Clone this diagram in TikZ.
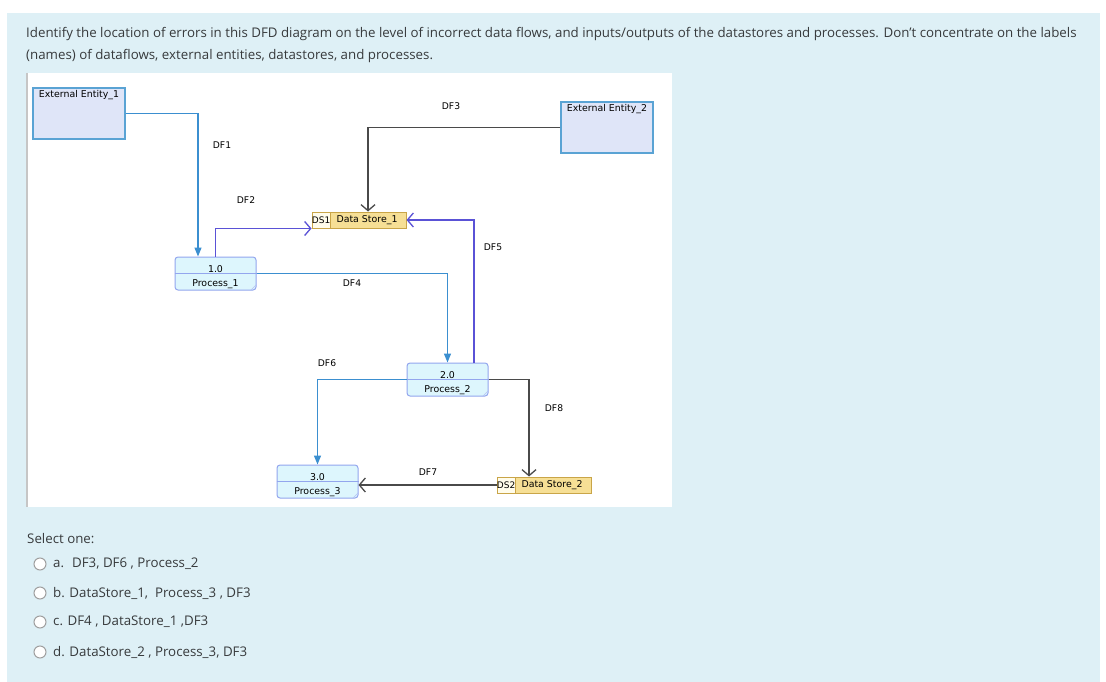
\documentclass[tikz,border=0pt]{standalone}
\usepackage{fontspec}
\setmainfont{Open Sans}
\newfontfamily\dfdfont{DejaVu Sans}
\usetikzlibrary{arrows.meta,positioning}

\definecolor{panelblue}{HTML}{DEF0F6}
\definecolor{qtext}{HTML}{373A3C}
\definecolor{eeborder}{HTML}{5AA3D4}
\definecolor{eefill}{HTML}{DFE5F8}
\definecolor{pborder}{HTML}{93A6EE}
\definecolor{pfill}{HTML}{DDF6FD}
\definecolor{dsborder}{HTML}{C9A548}
\definecolor{dsfill}{HTML}{F6DF95}
\definecolor{dsidfill}{HTML}{FFFCEB}
\definecolor{flowblue}{HTML}{3B8FD0}
\definecolor{flowpurple}{HTML}{5A52D6}
\definecolor{flowgray}{HTML}{4A4A4A}

\tikzset{
  extent/.style={draw=eeborder, line width=1.2pt, fill=eefill, minimum width=92pt, minimum height=51pt},
  eetext/.style={font=\dfdfont\fontsize{9.4}{10}\selectfont, inner sep=0pt, anchor=north},
  procbox/.style={draw=pborder, line width=1pt, fill=pfill, rounded corners=3pt,
    minimum width=81pt, minimum height=33pt, inner sep=0pt},
  proctext/.style={font=\dfdfont\fontsize{9.4}{10}\selectfont, inner sep=0pt, anchor=base},
  storebox/.style={draw=dsborder, line width=1pt, fill=dsfill, minimum width=94pt, minimum height=16pt,
    inner sep=0pt, font=\dfdfont\fontsize{9.4}{10}\selectfont},
  storeid/.style={draw=dsborder, line width=0.8pt, fill=dsidfill, minimum width=16pt, minimum height=16pt,
    inner sep=0pt, anchor=north west, font=\dfdfont\fontsize{9}{10}\selectfont},
  flowlabel/.style={font=\dfdfont\fontsize{9.2}{10}\selectfont, inner sep=0pt},
  fillflow/.style={line width=1.3pt, -{Triangle[length=9pt,width=7pt]}},
  openflow/.style={line width=1.3pt, -{Straight Barb[length=6pt,width=14pt]}},
  qline/.style={anchor=west, inner sep=0pt, text=qtext, font=\fontsize{13.3}{15}\selectfont},
  radio/.style={circle, draw=gray!75, line width=1pt, fill=white, minimum size=12pt, inner sep=0pt},
}

\begin{document}
\begin{tikzpicture}[x=1pt, y=-1pt]
  \useasboundingbox (0,0) rectangle (1106,682);
  % Fondo
  \fill[white] (0,0) rectangle (1106,682);
  \fill[panelblue] (7,13) rectangle (1100,682);
  \fill[white] (26,73) rectangle (672,507);
  \draw[gray!45, line width=1.5pt] (26.75,73) -- (26.75,507);

  % Pregunta
  \node[qline] (q1) at (26,34) {Identify the location of errors in this DFD diagram on the level of incorrect data flows, and inputs/outputs of the datastores and processes. Don't concentrate on the labels};
  \node[qline] (q2) at (26,56) {(names) of dataflows, external entities, datastores, and processes.};

  % Entidades externas
  \node[extent] (ee1) at (79,113.5) {};
  \node[eetext] (ee1txt) at ([yshift=-3pt]ee1.north) {External Entity\_1};
  \node[extent] (ee2) at (607,127.5) {};
  \node[eetext] (ee2txt) at ([yshift=-3pt]ee2.north) {External Entity\_2};

  % Procesos
  \node[procbox] (p1) at (215.5,273.5) {};
  \node[procbox] (p2) at (447.5,379.5) {};
  \node[procbox] (p3) at (317.5,481.5) {};
  \foreach \p/\n in {p1/1, p2/2, p3/3} {
    \draw[pborder, line width=0.8pt] (\p.west) -- (\p.east);
    \draw[pborder!70, line width=0.6pt] ([xshift=-6pt]\p.south east) -- ([yshift=6pt]\p.south east);
    \node[proctext] (\p num) at ([yshift=1.5pt]\p.center) {\n.0};
    \node[proctext] (\p name) at ([yshift=-12.5pt]\p.center) {Process\_\n};
  }

  % Almacenes
  \node[storebox] (ds1) at (359,220) {\hspace*{16pt}Data Store\_1};
  \node[storeid] (ds1id) at (ds1.north west) {DS1};
  \node[storebox] (ds2) at (544,485) {\hspace*{16pt}Data Store\_2};
  \node[storeid] (ds2id) at (ds2.north west) {DS2};

  % Flujos
  \draw[fillflow, flowblue] (ee1.east) -| ([xshift=-17.5pt]p1.north);
  \draw[openflow, flowpurple] (p1.north) |- (ds1.south west);
  \draw[openflow, flowgray] (ee2.west) -| ([xshift=9pt]ds1.north);
  \draw[fillflow, flowblue] (p1.east) -| (p2.north);
  \draw[openflow, flowpurple] ([xshift=26.5pt]p2.north) |- (ds1.east);
  \draw[fillflow, flowblue] (p2.west) -| (p3.north);
  \draw[openflow, flowgray] (ds2.west) -- (ds2.west -| p3.east);
  \draw[openflow, flowgray] (p2.east) -| ([xshift=-15pt]ds2.north);

  % Etiquetas de flujos
  \node[flowlabel] (df1) at (222,145) {DF1};
  \node[flowlabel] (df2) at (246,200) {DF2};
  \node[flowlabel] (df3) at (451,106) {DF3};
  \node[flowlabel] (df4) at (352,283) {DF4};
  \node[flowlabel] (df5) at (493,247) {DF5};
  \node[flowlabel] (df6) at (327,363) {DF6};
  \node[flowlabel] (df7) at (428,472) {DF7};
  \node[flowlabel] (df8) at (554,408) {DF8};

  % Opciones
  \node[qline] (sel) at (27,539) {Select one:};
  \node[radio] (ra) at (40,564) {};
  \node[qline] (ta) at (53,564) {a.\hspace{8pt}DF3, DF6 , Process\_2};
  \node[radio] (rb) at (40,593) {};
  \node[qline] (tb) at (53,593) {b. DataStore\_1,\ \ Process\_3 , DF3};
  \node[radio] (rc) at (40,622) {};
  \node[qline] (tc) at (53,622) {c. DF4 , DataStore\_1 ,DF3};
  \node[radio] (rd) at (40,652) {};
  \node[qline] (td) at (53,652) {d. DataStore\_2 , Process\_3, DF3};
\end{tikzpicture}
\end{document}
